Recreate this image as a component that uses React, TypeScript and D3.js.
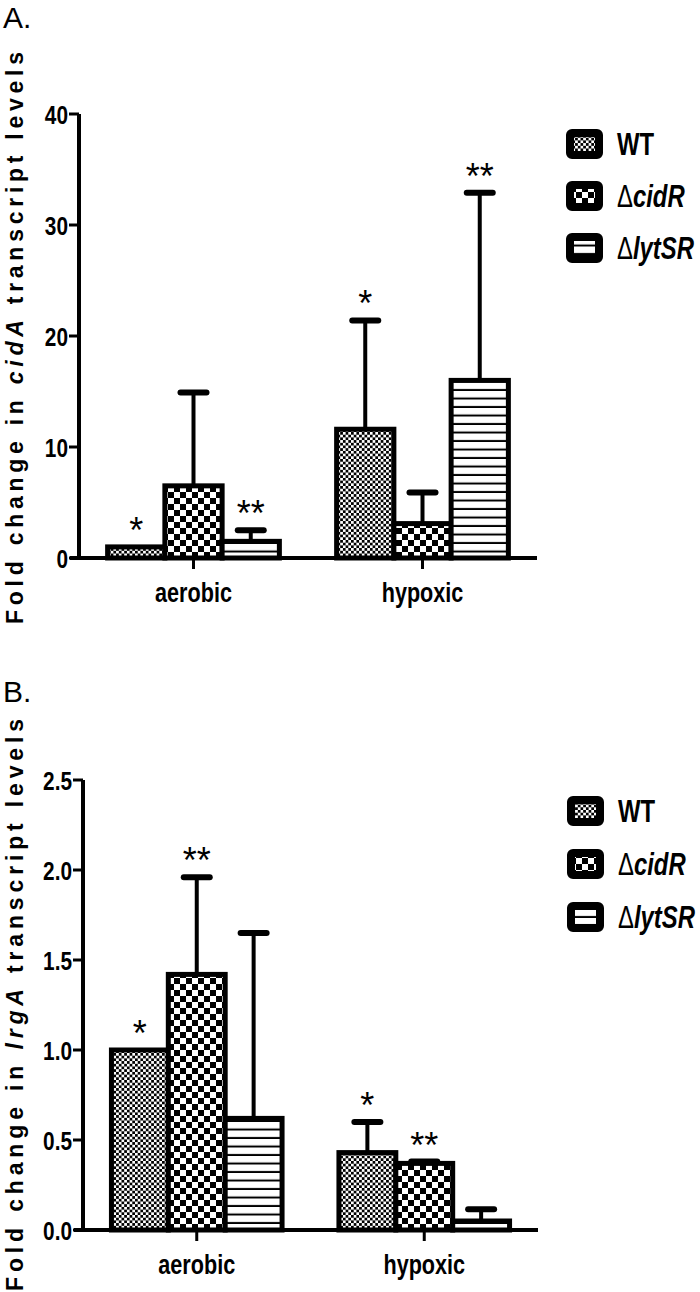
import React from "react";
import * as d3 from "d3";

// ---------- data ----------
const groups = ["aerobic", "hypoxic"];
const seriesKeys = ["WT", "cidR", "lytSR"];

// Panel A: cidA fold change
const cidAWT = [1.0, 11.6];
const cidAWTUpper = [1.0, 21.4];
const cidACidR = [6.5, 3.1];
const cidACidRUpper = [14.9, 5.9];
const cidALytSR = [1.5, 16.0];
const cidALytSRUpper = [2.5, 32.9];
const cidAStarsWT = ["*", "*"];
const cidAStarsCidR = ["", ""];
const cidAStarsLytSR = ["**", "**"];
const cidATicks = [0, 10, 20, 30, 40];

// Panel B: lrgA fold change
const lrgAWT = [1.0, 0.43];
const lrgAWTUpper = [1.0, 0.6];
const lrgACidR = [1.42, 0.37];
const lrgACidRUpper = [1.96, 0.38];
const lrgALytSR = [0.62, 0.05];
const lrgALytSRUpper = [1.65, 0.115];
const lrgAStarsWT = ["*", "*"];
const lrgAStarsCidR = ["**", "**"];
const lrgAStarsLytSR = ["", ""];
const lrgATicks = [0, 0.5, 1.0, 1.5, 2.0, 2.5];

const SANS = "'Liberation Sans', Arial, Helvetica, sans-serif";

const patternIds: Record<string, string> = { WT: "patWT", cidR: "patCidR", lytSR: "patLytSR" };

function Narrow({
  x,
  y,
  anchor = "start",
  size,
  weight = "bold",
  scale = 0.8,
  children,
}: {
  x: number;
  y: number;
  anchor?: "start" | "middle" | "end";
  size: number;
  weight?: string;
  scale?: number;
  children: React.ReactNode;
}) {
  return (
    <g transform={`translate(${x},${y}) scale(${scale},1)`}>
      <text x={0} y={0} textAnchor={anchor} fontFamily={SANS} fontWeight={weight} fontSize={size}>
        {children}
      </text>
    </g>
  );
}

type PanelProps = {
  label: string;
  labelY: number;
  gene: string;
  means: number[][];
  uppers: number[][];
  stars: string[][];
  ticks: number[];
  tickFmt: (v: number) => string;
  xRange: [number, number];
  yDomain: [number, number];
  yRange: [number, number];
  titleCenter: number;
  legendX: number;
  legendRows: number[];
};

function LegendLabel({ k }: { k: string }) {
  if (k === "WT") return <tspan fontWeight="bold">WT</tspan>;
  const name = k === "cidR" ? "cidR" : "lytSR";
  return (
    <>
      <tspan fontWeight="normal">Δ</tspan>
      <tspan fontWeight="bold" fontStyle="italic">{name}</tspan>
    </>
  );
}

function Panel(p: PanelProps) {
  const x = d3.scaleBand<string>().domain(groups).range(p.xRange).paddingInner(0.25).paddingOuter(0.125);
  const xi = d3.scaleBand<string>().domain(seriesKeys).range([0, x.bandwidth()]).padding(0);
  const y = d3.scaleLinear().domain(p.yDomain).range(p.yRange);
  const axisX = p.xRange[0];
  const y0 = y(0);
  const yTop = y(p.yDomain[1]);

  return (
    <g>
      <text x={3} y={p.labelY} fontFamily={SANS} fontSize={30}>{p.label}</text>
      {/* y title */}
      <text
        transform={`translate(23,${p.titleCenter}) rotate(-90)`}
        textAnchor="middle"
        fontFamily={SANS}
        fontWeight="bold"
        fontSize={23}
        textLength={572}
        lengthAdjust="spacing"
      >
        Fold change in <tspan fontStyle="italic">{p.gene}</tspan> transcript levels
      </text>

      {/* bars */}
      {groups.map((g, gi) =>
        seriesKeys.map((s, si) => {
          const bx = (x(g) as number) + (xi(s) as number);
          const bw = xi.bandwidth();
          const m = p.means[si][gi];
          const u = p.uppers[si][gi];
          const cx = bx + bw / 2;
          const star = p.stars[si][gi];
          const top = Math.min(y(m), y(u));
          return (
            <g key={g + s}>
              {u > m && (
                <g>
                  <line x1={cx} x2={cx} y1={y(m)} y2={y(u)} stroke="#000" strokeWidth={4} />
                  <line x1={cx - 13} x2={cx + 13} y1={y(u)} y2={y(u)} stroke="#000" strokeWidth={6} strokeLinecap="round" />
                </g>
              )}
              <rect
                x={bx}
                y={y(m)}
                width={bw}
                height={y0 - y(m)}
                fill={`url(#${patternIds[s]})`}
                stroke="#000"
                strokeWidth={5}
              />
              {star && (
                <text x={cx} y={top - 4} textAnchor="middle" fontFamily={SANS} fontSize={36}>
                  {star}
                </text>
              )}
            </g>
          );
        })
      )}

      {/* y axis */}
      <line x1={axisX} x2={axisX} y1={yTop} y2={y0 + 2} stroke="#000" strokeWidth={4} />
      {p.ticks.map((t) => (
        <g key={t}>
          <line x1={axisX - 10} x2={axisX} y1={y(t)} y2={y(t)} stroke="#000" strokeWidth={3} />
          <Narrow x={axisX - 11} y={y(t) + 9.5} anchor="end" size={26}>
            {p.tickFmt(t)}
          </Narrow>
        </g>
      ))}
      {/* x axis */}
      <line x1={axisX - 9} x2={p.xRange[1]} y1={y0} y2={y0} stroke="#000" strokeWidth={4} />
      {groups.map((g) => {
        const cx = (x(g) as number) + x.bandwidth() / 2;
        return (
          <g key={g}>
            <line x1={cx} x2={cx} y1={y0} y2={y0 + 11} stroke="#000" strokeWidth={3} />
            <Narrow x={cx} y={y0 + 44} anchor="middle" size={27}>
              {g}
            </Narrow>
          </g>
        );
      })}

      {/* legend */}
      {seriesKeys.map((s, i) => {
        const cy = p.legendRows[i];
        return (
          <g key={s}>
            <rect
              x={p.legendX + 4}
              y={cy - 11}
              width={29}
              height={22}
              rx={2}
              fill={`url(#${patternIds[s]})`}
              stroke="#000"
              strokeWidth={8}
              strokeLinejoin="round"
            />
            <Narrow x={p.legendX + 51} y={cy + 11} size={31} weight="normal" scale={0.77}>
              <LegendLabel k={s} />
            </Narrow>
          </g>
        );
      })}
    </g>
  );
}

export default function App() {
  return (
    <svg width={700} height={1292} style={{ display: "block", position: "absolute", left: 0, top: 0, background: "#fff" }}>
      <defs>
        <pattern id="patWT" patternUnits="userSpaceOnUse" width={5.4} height={5.4}>
          <rect width={5.4} height={5.4} fill="#fff" />
          <rect width={2.7} height={2.7} fill="#000" />
          <rect x={2.7} y={2.7} width={2.7} height={2.7} fill="#000" />
        </pattern>
        <pattern id="patCidR" patternUnits="userSpaceOnUse" width={12} height={12}>
          <rect width={12} height={12} fill="#fff" />
          <rect width={6} height={6} fill="#000" />
          <rect x={6} y={6} width={6} height={6} fill="#000" />
        </pattern>
        <pattern id="patLytSR" patternUnits="userSpaceOnUse" width={8.5} height={8.5}>
          <rect width={8.5} height={8.5} fill="#fff" />
          <rect y={6.5} width={8.5} height={2} fill="#000" />
        </pattern>
      </defs>
      <Panel
        label="A."
        labelY={28}
        gene="cidA"
        means={[cidAWT, cidACidR, cidALytSR]}
        uppers={[cidAWTUpper, cidACidRUpper, cidALytSRUpper]}
        stars={[cidAStarsWT, cidAStarsCidR, cidAStarsLytSR]}
        ticks={cidATicks}
        tickFmt={d3.format("d")}
        xRange={[79, 537]}
        yDomain={[0, 40]}
        yRange={[558, 114]}
        titleCenter={338}
        legendX={566}
        legendRows={[144, 196, 248]}
      />
      <Panel
        label="B."
        labelY={702}
        gene="lrgA"
        means={[lrgAWT, lrgACidR, lrgALytSR]}
        uppers={[lrgAWTUpper, lrgACidRUpper, lrgALytSRUpper]}
        stars={[lrgAStarsWT, lrgAStarsCidR, lrgAStarsLytSR]}
        ticks={lrgATicks}
        tickFmt={d3.format(".1f")}
        xRange={[83, 538]}
        yDomain={[0, 2.5]}
        yRange={[1230, 780]}
        titleCenter={1005}
        legendX={567}
        legendRows={[811, 864, 917]}
      />
    </svg>
  );
}
